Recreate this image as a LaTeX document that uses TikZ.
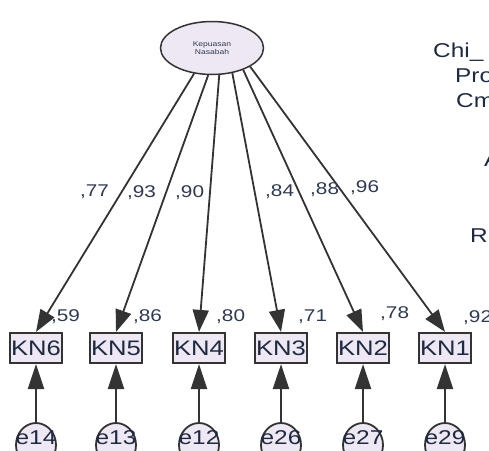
\documentclass[tikz,border=0pt]{standalone}
\usepackage{fontspec}
\setmainfont{Liberation Sans}[FakeStretch=1.22]
\usetikzlibrary{arrows.meta,shapes.geometric}
\definecolor{lav}{HTML}{EEE7F4}
\definecolor{edge}{HTML}{333333}
\definecolor{numc}{HTML}{2F3A52}
\definecolor{txtc}{HTML}{1E2A40}
\tikzset{
  latent/.style={ellipse,draw=edge,line width=1.5pt,fill=lav,minimum width=103pt,minimum height=53pt,inner sep=0pt,align=center,font=\fontsize{7}{8}\selectfont,text=numc},
  obsbox/.style={rectangle,draw=edge,line width=2.2pt,fill=lav,minimum width=52pt,minimum height=30pt,inner sep=0pt,font=\fontsize{21}{23}\selectfont,text=txtc},
  errc/.style={ellipse,draw=edge,line width=1.8pt,fill=lav,minimum width=40pt,minimum height=44pt,inner sep=0pt},
  errlab/.style={font=\fontsize{20}{22}\selectfont,text=txtc,inner sep=0pt},
  loadarr/.style={draw=edge,line width=1.8pt,-{Triangle[length=22pt,width=16pt]}},
  errarr/.style={draw=edge,line width=2.2pt,-{Triangle[length=25pt,width=16pt]}},
  coef/.style={font=\fontsize{17}{19}\selectfont,text=numc,anchor=west,inner sep=0pt},
  fit/.style={font=\fontsize{20}{22}\selectfont,text=txtc,anchor=west,inner sep=0pt}
}
\begin{document}
\begin{tikzpicture}[x=1pt,y=-1pt]
\useasboundingbox (0,0) rectangle (489,450);
\clip (0,0) rectangle (489,450);
\fill[white] (0,0) rectangle (489,450);
% latent
\node[latent] (F) at (212,48) {Kepuasan\\Nasabah};
% observed
\node[obsbox] (kn6) at (36,348) {KN6};
\node[obsbox] (kn5) at (116,348) {KN5};
\node[obsbox] (kn4) at (199,348) {KN4};
\node[obsbox] (kn3) at (281,348) {KN3};
\node[obsbox] (kn2) at (363,348) {KN2};
\node[obsbox] (kn1) at (445,348) {KN1};
% errors
\node[errc] (e14) at (36,445) {};
\node[errc] (e13) at (116,445) {};
\node[errc] (e12) at (199,445) {};
\node[errc] (e26) at (281,445) {};
\node[errc] (e27) at (363,445) {};
\node[errc] (e29) at (445,445) {};
\node[errlab] at (36,438) {e14};
\node[errlab] at (116,438) {e13};
\node[errlab] at (199,438) {e12};
\node[errlab] at (281,438) {e26};
\node[errlab] at (363,438) {e27};
\node[errlab] at (445,438) {e29};
% loadings
\draw[loadarr] (F.235) -- (kn6.north);
\draw[loadarr] (F.262) -- (kn5.north);
\draw[loadarr] (F.285) -- (kn4.north);
\draw[loadarr] (F.309) -- (kn3.north);
\draw[loadarr] (F.325) -- (kn2.north);
\draw[loadarr] (F.334) -- (kn1.north);
% error arrows
\draw[errarr] (e14) -- (kn6.south);
\draw[errarr] (e13) -- (kn5.south);
\draw[errarr] (e12) -- (kn4.south);
\draw[errarr] (e26) -- (kn3.south);
\draw[errarr] (e27) -- (kn2.south);
\draw[errarr] (e29) -- (kn1.south);
% coefficients
\node[coef] (c1) at (80,192) {,77};
\node[coef] (c2) at (127,193) {,93};
\node[coef] (c3) at (175,193) {,90};
\node[coef] (c4) at (265,192) {,84};
\node[coef] (c5) at (310,190) {,88};
\node[coef] (c6) at (350,188) {,96};
\node[coef] (r6) at (51,317) {,59};
\node[coef] (r5) at (133,317) {,86};
\node[coef] (r4) at (216,317) {,80};
\node[coef] (r3) at (298,317) {,71};
\node[coef] (r2) at (380,314) {,78};
\node[coef] (r1) at (463,318) {,92};
% fit text (cut at right edge, as in the reference)
\node[fit] (t1) at (433,52) {Chi\_};
\node[fit] (t2) at (455,76) {Pro};
\node[fit] (t3) at (456,101) {Cm};
\node[fit] (t4) at (484,160) {A};
\node[fit] (t5) at (470,236) {R};
\end{tikzpicture}
\end{document}
